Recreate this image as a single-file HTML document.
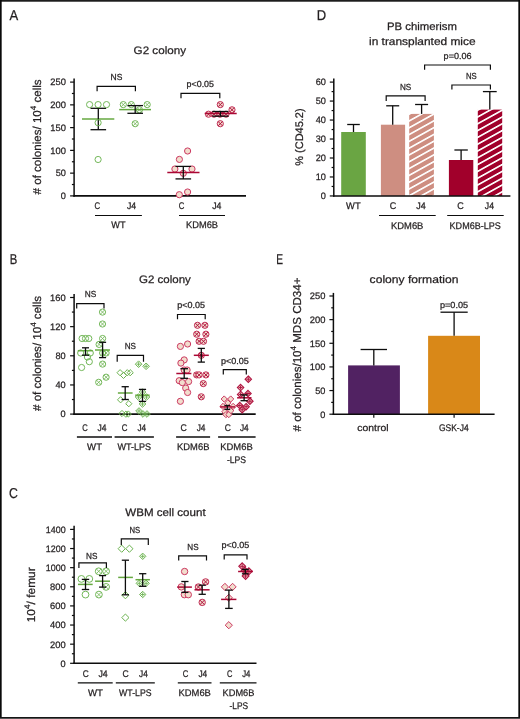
<!DOCTYPE html>
<html><head><meta charset="utf-8"><style>
html,body{margin:0;padding:0;background:#fff;width:520px;height:719px;overflow:hidden;}
svg{display:block;will-change:transform;}
</style></head><body>
<svg width="520" height="719" viewBox="0 0 520 719" style="position:absolute;left:0;top:0" font-family="'Liberation Sans', sans-serif">
<style>text{stroke:#231f20;stroke-width:0.25px;text-rendering:geometricPrecision;}</style>
<rect x="0" y="0" width="520" height="719" fill="#fff"/>
<text x="9.6" y="20.4" font-size="14.3" text-anchor="start" fill="#231f20" textLength="8.7" lengthAdjust="spacingAndGlyphs" >A</text>
<text x="9.8" y="263.8" font-size="14.3" text-anchor="start" fill="#231f20" textLength="7.5" lengthAdjust="spacingAndGlyphs" >B</text>
<text x="9.0" y="498.3" font-size="14.3" text-anchor="start" fill="#231f20" textLength="8.9" lengthAdjust="spacingAndGlyphs" >C</text>
<text x="316.8" y="20.2" font-size="14.3" text-anchor="start" fill="#231f20" textLength="9.4" lengthAdjust="spacingAndGlyphs" >D</text>
<text x="276.3" y="264.0" font-size="14.3" text-anchor="start" fill="#231f20" textLength="6.8" lengthAdjust="spacingAndGlyphs" >E</text>
<text x="133.6" y="53.8" font-size="10.8" text-anchor="start" fill="#231f20" textLength="52.4" lengthAdjust="spacingAndGlyphs" >G2 colony</text>
<text transform="translate(40.9,194.4) rotate(-90)" font-size="11.5" fill="#231f20" textLength="115" lengthAdjust="spacingAndGlyphs"># of colonies/ 10<tspan dy="-4.6" font-size="8">4</tspan><tspan dy="4.6"> cells</tspan></text>
<line x1="74.10" y1="78.50" x2="74.10" y2="196.70" stroke="#0d0d0d" stroke-width="1.5" stroke-linecap="butt"/>
<line x1="70.10" y1="195.90" x2="74.10" y2="195.90" stroke="#0d0d0d" stroke-width="1.2" stroke-linecap="butt"/>
<text x="65.9" y="199.2" font-size="9.3" text-anchor="end" fill="#231f20" textLength="5.1" lengthAdjust="spacingAndGlyphs" >0</text>
<line x1="70.10" y1="173.14" x2="74.10" y2="173.14" stroke="#0d0d0d" stroke-width="1.2" stroke-linecap="butt"/>
<text x="65.9" y="176.4" font-size="9.3" text-anchor="end" fill="#231f20" textLength="10.2" lengthAdjust="spacingAndGlyphs" >50</text>
<line x1="70.10" y1="150.38" x2="74.10" y2="150.38" stroke="#0d0d0d" stroke-width="1.2" stroke-linecap="butt"/>
<text x="65.9" y="153.7" font-size="9.3" text-anchor="end" fill="#231f20" textLength="15.6" lengthAdjust="spacingAndGlyphs" >100</text>
<line x1="70.10" y1="127.62" x2="74.10" y2="127.62" stroke="#0d0d0d" stroke-width="1.2" stroke-linecap="butt"/>
<text x="65.9" y="130.9" font-size="9.3" text-anchor="end" fill="#231f20" textLength="15.6" lengthAdjust="spacingAndGlyphs" >150</text>
<line x1="70.10" y1="104.86" x2="74.10" y2="104.86" stroke="#0d0d0d" stroke-width="1.2" stroke-linecap="butt"/>
<text x="65.9" y="108.2" font-size="9.3" text-anchor="end" fill="#231f20" textLength="15.6" lengthAdjust="spacingAndGlyphs" >200</text>
<line x1="70.10" y1="82.10" x2="74.10" y2="82.10" stroke="#0d0d0d" stroke-width="1.2" stroke-linecap="butt"/>
<text x="65.9" y="85.4" font-size="9.3" text-anchor="end" fill="#231f20" textLength="15.6" lengthAdjust="spacingAndGlyphs" >250</text>
<line x1="71.90" y1="184.52" x2="74.10" y2="184.52" stroke="#0d0d0d" stroke-width="1.2" stroke-linecap="butt"/>
<line x1="71.90" y1="161.76" x2="74.10" y2="161.76" stroke="#0d0d0d" stroke-width="1.2" stroke-linecap="butt"/>
<line x1="71.90" y1="139.00" x2="74.10" y2="139.00" stroke="#0d0d0d" stroke-width="1.2" stroke-linecap="butt"/>
<line x1="71.90" y1="116.24" x2="74.10" y2="116.24" stroke="#0d0d0d" stroke-width="1.2" stroke-linecap="butt"/>
<line x1="71.90" y1="93.48" x2="74.10" y2="93.48" stroke="#0d0d0d" stroke-width="1.2" stroke-linecap="butt"/>
<line x1="73.40" y1="195.90" x2="246.00" y2="195.90" stroke="#0d0d0d" stroke-width="1.6" stroke-linecap="butt"/>
<line x1="82.00" y1="119.00" x2="114.30" y2="119.00" stroke="#66a840" stroke-width="1.5" stroke-linecap="butt"/>
<line x1="98.30" y1="108.30" x2="98.30" y2="129.70" stroke="#0d0d0d" stroke-width="1.3" stroke-linecap="butt"/>
<line x1="90.50" y1="108.30" x2="106.10" y2="108.30" stroke="#0d0d0d" stroke-width="1.3" stroke-linecap="butt"/>
<line x1="90.50" y1="129.70" x2="106.10" y2="129.70" stroke="#0d0d0d" stroke-width="1.3" stroke-linecap="butt"/>
<circle cx="89.6" cy="104.6" r="3.1" fill="none" stroke="#6cb350" stroke-width="0.95"/>
<circle cx="98.1" cy="104.6" r="3.1" fill="none" stroke="#6cb350" stroke-width="0.95"/>
<circle cx="106.5" cy="104.6" r="3.1" fill="none" stroke="#6cb350" stroke-width="0.95"/>
<circle cx="98.1" cy="122.7" r="3.1" fill="none" stroke="#6cb350" stroke-width="0.95"/>
<circle cx="98.1" cy="159.5" r="3.1" fill="none" stroke="#6cb350" stroke-width="0.95"/>
<circle cx="123.3" cy="104.6" r="3.1" fill="none" stroke="#6cb350" stroke-width="0.95"/>
<path d="M121.13 102.43L125.47 106.77M121.13 106.77L125.47 102.43" stroke="#6cb350" stroke-width="0.8"/>
<circle cx="131.3" cy="104.6" r="3.1" fill="none" stroke="#6cb350" stroke-width="0.95"/>
<path d="M129.13 102.43L133.47 106.77M129.13 106.77L133.47 102.43" stroke="#6cb350" stroke-width="0.8"/>
<circle cx="147.2" cy="104.6" r="3.1" fill="none" stroke="#6cb350" stroke-width="0.95"/>
<path d="M145.03 102.43L149.37 106.77M145.03 106.77L149.37 102.43" stroke="#6cb350" stroke-width="0.8"/>
<circle cx="139.4" cy="109.8" r="3.1" fill="none" stroke="#6cb350" stroke-width="0.95"/>
<path d="M137.23 107.63L141.57 111.97M137.23 111.97L141.57 107.63" stroke="#6cb350" stroke-width="0.8"/>
<circle cx="135.2" cy="123.7" r="3.1" fill="none" stroke="#6cb350" stroke-width="0.95"/>
<path d="M133.03 121.53L137.37 125.87M133.03 125.87L137.37 121.53" stroke="#6cb350" stroke-width="0.8"/>
<line x1="119.20" y1="109.60" x2="151.00" y2="109.60" stroke="#66a840" stroke-width="1.5" stroke-linecap="butt"/>
<line x1="135.20" y1="105.60" x2="135.20" y2="113.30" stroke="#0d0d0d" stroke-width="1.3" stroke-linecap="butt"/>
<line x1="127.40" y1="105.60" x2="143.00" y2="105.60" stroke="#0d0d0d" stroke-width="1.3" stroke-linecap="butt"/>
<line x1="127.40" y1="113.30" x2="143.00" y2="113.30" stroke="#0d0d0d" stroke-width="1.3" stroke-linecap="butt"/>
<path d="M97.10 91.20L97.10 86.30L135.40 86.30L135.40 91.20" fill="none" stroke="#0d0d0d" stroke-width="1.2"/>
<text x="110.6" y="79.6" font-size="8.8" text-anchor="start" fill="#231f20" textLength="11.8" lengthAdjust="spacingAndGlyphs" >NS</text>
<circle cx="187.6" cy="151.0" r="3.1" fill="#f2dccd" stroke="#cc3a62" stroke-width="1.0"/>
<circle cx="179.4" cy="159.4" r="3.1" fill="#f2dccd" stroke="#cc3a62" stroke-width="1.0"/>
<circle cx="174.9" cy="169.0" r="3.1" fill="#f2dccd" stroke="#cc3a62" stroke-width="1.0"/>
<circle cx="192.0" cy="169.0" r="3.1" fill="#f2dccd" stroke="#cc3a62" stroke-width="1.0"/>
<circle cx="183.3" cy="173.3" r="3.1" fill="#f2dccd" stroke="#cc3a62" stroke-width="1.0"/>
<circle cx="187.6" cy="192.0" r="3.1" fill="#f2dccd" stroke="#cc3a62" stroke-width="1.0"/>
<circle cx="179.3" cy="194.7" r="3.1" fill="#f2dccd" stroke="#cc3a62" stroke-width="1.0"/>
<line x1="167.30" y1="172.40" x2="199.50" y2="172.40" stroke="#aa0834" stroke-width="1.5" stroke-linecap="butt"/>
<line x1="183.30" y1="166.40" x2="183.30" y2="178.90" stroke="#0d0d0d" stroke-width="1.3" stroke-linecap="butt"/>
<line x1="175.50" y1="166.40" x2="191.10" y2="166.40" stroke="#0d0d0d" stroke-width="1.3" stroke-linecap="butt"/>
<line x1="175.50" y1="178.90" x2="191.10" y2="178.90" stroke="#0d0d0d" stroke-width="1.3" stroke-linecap="butt"/>
<circle cx="220.3" cy="104.6" r="3.1" fill="#f2dccd" stroke="#c22e57" stroke-width="1.0"/>
<path d="M218.13 102.43L222.47 106.77M218.13 106.77L222.47 102.43" stroke="#b01240" stroke-width="1.0"/>
<circle cx="232.0" cy="109.8" r="3.1" fill="#f2dccd" stroke="#c22e57" stroke-width="1.0"/>
<path d="M229.83 107.63L234.17 111.97M229.83 111.97L234.17 107.63" stroke="#b01240" stroke-width="1.0"/>
<circle cx="208.5" cy="114.2" r="3.1" fill="#f2dccd" stroke="#c22e57" stroke-width="1.0"/>
<path d="M206.33 112.03L210.67 116.37M206.33 116.37L210.67 112.03" stroke="#b01240" stroke-width="1.0"/>
<circle cx="214.0" cy="114.2" r="3.1" fill="#f2dccd" stroke="#c22e57" stroke-width="1.0"/>
<path d="M211.83 112.03L216.17 116.37M211.83 116.37L216.17 112.03" stroke="#b01240" stroke-width="1.0"/>
<circle cx="220.0" cy="114.2" r="3.1" fill="#f2dccd" stroke="#c22e57" stroke-width="1.0"/>
<path d="M217.83 112.03L222.17 116.37M217.83 116.37L222.17 112.03" stroke="#b01240" stroke-width="1.0"/>
<circle cx="226.0" cy="114.2" r="3.1" fill="#f2dccd" stroke="#c22e57" stroke-width="1.0"/>
<path d="M223.83 112.03L228.17 116.37M223.83 116.37L228.17 112.03" stroke="#b01240" stroke-width="1.0"/>
<circle cx="220.3" cy="123.7" r="3.1" fill="#f2dccd" stroke="#c22e57" stroke-width="1.0"/>
<path d="M218.13 121.53L222.47 125.87M218.13 125.87L222.47 121.53" stroke="#b01240" stroke-width="1.0"/>
<line x1="204.70" y1="113.60" x2="236.70" y2="113.60" stroke="#aa0834" stroke-width="1.5" stroke-linecap="butt"/>
<line x1="220.40" y1="111.50" x2="220.40" y2="116.20" stroke="#0d0d0d" stroke-width="1.3" stroke-linecap="butt"/>
<line x1="212.30" y1="111.50" x2="228.50" y2="111.50" stroke="#0d0d0d" stroke-width="1.3" stroke-linecap="butt"/>
<line x1="212.30" y1="116.20" x2="228.50" y2="116.20" stroke="#0d0d0d" stroke-width="1.3" stroke-linecap="butt"/>
<path d="M181.00 98.30L181.00 93.30L219.80 93.30L219.80 98.30" fill="none" stroke="#0d0d0d" stroke-width="1.2"/>
<text x="186.6" y="86.9" font-size="8.8" text-anchor="start" fill="#231f20" textLength="27.4" lengthAdjust="spacingAndGlyphs" >p&lt;0.05</text>
<text x="94.5" y="209.1" font-size="9.6" text-anchor="start" fill="#231f20" textLength="5.6" lengthAdjust="spacingAndGlyphs" >C</text>
<text x="126.9" y="209.1" font-size="9.6" text-anchor="start" fill="#231f20" textLength="9.2" lengthAdjust="spacingAndGlyphs" >J4</text>
<text x="178.7" y="209.1" font-size="9.6" text-anchor="start" fill="#231f20" textLength="5.6" lengthAdjust="spacingAndGlyphs" >C</text>
<text x="212.2" y="209.1" font-size="9.6" text-anchor="start" fill="#231f20" textLength="9.2" lengthAdjust="spacingAndGlyphs" >J4</text>
<line x1="95.00" y1="215.50" x2="141.90" y2="215.50" stroke="#0d0d0d" stroke-width="1.2" stroke-linecap="butt"/>
<line x1="179.00" y1="215.50" x2="225.00" y2="215.50" stroke="#0d0d0d" stroke-width="1.2" stroke-linecap="butt"/>
<text x="111.3" y="228.3" font-size="9.6" text-anchor="start" fill="#231f20" textLength="14.2" lengthAdjust="spacingAndGlyphs" >WT</text>
<text x="186.0" y="228.3" font-size="9.6" text-anchor="start" fill="#231f20" textLength="32.0" lengthAdjust="spacingAndGlyphs" >KDM6B</text>
<text x="139.0" y="282.5" font-size="10.8" text-anchor="start" fill="#231f20" textLength="51.8" lengthAdjust="spacingAndGlyphs" >G2 colony</text>
<text transform="translate(41.0,411.0) rotate(-90)" font-size="11.5" fill="#231f20" textLength="115" lengthAdjust="spacingAndGlyphs"># of colonies/ 10<tspan dy="-4.6" font-size="8">4</tspan><tspan dy="4.6"> cells</tspan></text>
<line x1="74.10" y1="294.00" x2="74.10" y2="414.90" stroke="#0d0d0d" stroke-width="1.5" stroke-linecap="butt"/>
<line x1="70.10" y1="414.10" x2="74.10" y2="414.10" stroke="#0d0d0d" stroke-width="1.2" stroke-linecap="butt"/>
<text x="65.6" y="417.4" font-size="9.3" text-anchor="end" fill="#231f20" textLength="5.1" lengthAdjust="spacingAndGlyphs" >0</text>
<line x1="70.10" y1="384.95" x2="74.10" y2="384.95" stroke="#0d0d0d" stroke-width="1.2" stroke-linecap="butt"/>
<text x="65.6" y="388.3" font-size="9.3" text-anchor="end" fill="#231f20" textLength="10.2" lengthAdjust="spacingAndGlyphs" >40</text>
<line x1="70.10" y1="355.80" x2="74.10" y2="355.80" stroke="#0d0d0d" stroke-width="1.2" stroke-linecap="butt"/>
<text x="65.6" y="359.1" font-size="9.3" text-anchor="end" fill="#231f20" textLength="10.2" lengthAdjust="spacingAndGlyphs" >80</text>
<line x1="70.10" y1="326.65" x2="74.10" y2="326.65" stroke="#0d0d0d" stroke-width="1.2" stroke-linecap="butt"/>
<text x="65.6" y="329.9" font-size="9.3" text-anchor="end" fill="#231f20" textLength="15.6" lengthAdjust="spacingAndGlyphs" >120</text>
<line x1="70.10" y1="297.50" x2="74.10" y2="297.50" stroke="#0d0d0d" stroke-width="1.2" stroke-linecap="butt"/>
<text x="65.6" y="300.8" font-size="9.3" text-anchor="end" fill="#231f20" textLength="15.6" lengthAdjust="spacingAndGlyphs" >160</text>
<line x1="71.90" y1="399.53" x2="74.10" y2="399.53" stroke="#0d0d0d" stroke-width="1.2" stroke-linecap="butt"/>
<line x1="71.90" y1="370.38" x2="74.10" y2="370.38" stroke="#0d0d0d" stroke-width="1.2" stroke-linecap="butt"/>
<line x1="71.90" y1="341.23" x2="74.10" y2="341.23" stroke="#0d0d0d" stroke-width="1.2" stroke-linecap="butt"/>
<line x1="71.90" y1="312.07" x2="74.10" y2="312.07" stroke="#0d0d0d" stroke-width="1.2" stroke-linecap="butt"/>
<line x1="73.40" y1="414.10" x2="255.70" y2="414.10" stroke="#0d0d0d" stroke-width="1.6" stroke-linecap="butt"/>
<circle cx="82.1" cy="338.5" r="3.1" fill="none" stroke="#6cb350" stroke-width="0.95"/>
<circle cx="85.5" cy="338.5" r="3.1" fill="none" stroke="#6cb350" stroke-width="0.95"/>
<circle cx="88.8" cy="338.5" r="3.1" fill="none" stroke="#6cb350" stroke-width="0.95"/>
<circle cx="80.7" cy="353.0" r="3.1" fill="none" stroke="#6cb350" stroke-width="0.95"/>
<circle cx="90.3" cy="353.0" r="3.1" fill="none" stroke="#6cb350" stroke-width="0.95"/>
<circle cx="87.4" cy="357.0" r="3.1" fill="none" stroke="#6cb350" stroke-width="0.95"/>
<circle cx="89.3" cy="361.7" r="3.1" fill="none" stroke="#6cb350" stroke-width="0.95"/>
<circle cx="81.6" cy="367.5" r="3.1" fill="none" stroke="#6cb350" stroke-width="0.95"/>
<line x1="77.80" y1="350.70" x2="92.70" y2="350.70" stroke="#66a840" stroke-width="1.5" stroke-linecap="butt"/>
<line x1="85.50" y1="347.80" x2="85.50" y2="355.20" stroke="#0d0d0d" stroke-width="1.3" stroke-linecap="butt"/>
<line x1="82.00" y1="347.80" x2="89.00" y2="347.80" stroke="#0d0d0d" stroke-width="1.3" stroke-linecap="butt"/>
<line x1="82.00" y1="355.20" x2="89.00" y2="355.20" stroke="#0d0d0d" stroke-width="1.3" stroke-linecap="butt"/>
<circle cx="102.5" cy="312.1" r="3.1" fill="none" stroke="#6cb350" stroke-width="0.95"/>
<path d="M100.33 309.93L104.67 314.27M100.33 314.27L104.67 309.93" stroke="#6cb350" stroke-width="0.8"/>
<circle cx="102.5" cy="324.0" r="3.1" fill="none" stroke="#6cb350" stroke-width="0.95"/>
<path d="M100.33 321.83L104.67 326.17M100.33 326.17L104.67 321.83" stroke="#6cb350" stroke-width="0.8"/>
<circle cx="102.6" cy="338.5" r="3.1" fill="none" stroke="#6cb350" stroke-width="0.95"/>
<path d="M100.43 336.33L104.77 340.67M100.43 340.67L104.77 336.33" stroke="#6cb350" stroke-width="0.8"/>
<circle cx="99.1" cy="344.4" r="3.1" fill="none" stroke="#6cb350" stroke-width="0.95"/>
<path d="M96.93 342.23L101.27 346.57M96.93 346.57L101.27 342.23" stroke="#6cb350" stroke-width="0.8"/>
<circle cx="102.6" cy="353.0" r="3.1" fill="none" stroke="#6cb350" stroke-width="0.95"/>
<path d="M100.43 350.83L104.77 355.17M100.43 355.17L104.77 350.83" stroke="#6cb350" stroke-width="0.8"/>
<circle cx="106.1" cy="353.0" r="3.1" fill="none" stroke="#6cb350" stroke-width="0.95"/>
<path d="M103.93 350.83L108.27 355.17M103.93 355.17L108.27 350.83" stroke="#6cb350" stroke-width="0.8"/>
<circle cx="102.6" cy="364.1" r="3.1" fill="none" stroke="#6cb350" stroke-width="0.95"/>
<path d="M100.43 361.93L104.77 366.27M100.43 366.27L104.77 361.93" stroke="#6cb350" stroke-width="0.8"/>
<circle cx="106.1" cy="377.2" r="3.1" fill="none" stroke="#6cb350" stroke-width="0.95"/>
<path d="M103.93 375.03L108.27 379.37M103.93 379.37L108.27 375.03" stroke="#6cb350" stroke-width="0.8"/>
<circle cx="98.7" cy="382.3" r="3.1" fill="none" stroke="#6cb350" stroke-width="0.95"/>
<path d="M96.53 380.13L100.87 384.47M96.53 384.47L100.87 380.13" stroke="#6cb350" stroke-width="0.8"/>
<line x1="95.00" y1="350.00" x2="110.00" y2="350.00" stroke="#66a840" stroke-width="1.5" stroke-linecap="butt"/>
<line x1="102.60" y1="342.30" x2="102.60" y2="357.60" stroke="#0d0d0d" stroke-width="1.3" stroke-linecap="butt"/>
<line x1="99.10" y1="342.30" x2="106.10" y2="342.30" stroke="#0d0d0d" stroke-width="1.3" stroke-linecap="butt"/>
<line x1="99.10" y1="357.60" x2="106.10" y2="357.60" stroke="#0d0d0d" stroke-width="1.3" stroke-linecap="butt"/>
<path d="M76.70 308.60L76.70 303.70L104.00 303.70L104.00 308.60" fill="none" stroke="#0d0d0d" stroke-width="1.2"/>
<text x="84.8" y="297.1" font-size="8.8" text-anchor="start" fill="#231f20" textLength="11.5" lengthAdjust="spacingAndGlyphs" >NS</text>
<path d="M120.10 369.60L123.20 372.70L120.10 375.80L117.00 372.70Z" fill="none" stroke="#6cb350" stroke-width="1.0"/>
<path d="M123.50 372.30L126.60 375.40L123.50 378.50L120.40 375.40Z" fill="none" stroke="#6cb350" stroke-width="1.0"/>
<path d="M127.30 369.60L130.40 372.70L127.30 375.80L124.20 372.70Z" fill="none" stroke="#6cb350" stroke-width="1.0"/>
<path d="M130.20 369.60L133.30 372.70L130.20 375.80L127.10 372.70Z" fill="none" stroke="#6cb350" stroke-width="1.0"/>
<path d="M120.60 396.70L123.70 399.80L120.60 402.90L117.50 399.80Z" fill="none" stroke="#6cb350" stroke-width="1.0"/>
<path d="M128.80 400.60L131.90 403.70L128.80 406.80L125.70 403.70Z" fill="none" stroke="#6cb350" stroke-width="1.0"/>
<path d="M122.00 410.40L125.10 413.50L122.00 416.60L118.90 413.50Z" fill="none" stroke="#6cb350" stroke-width="1.0"/>
<path d="M125.90 411.10L129.00 414.20L125.90 417.30L122.80 414.20Z" fill="none" stroke="#6cb350" stroke-width="1.0"/>
<path d="M128.30 410.90L131.40 414.00L128.30 417.10L125.20 414.00Z" fill="none" stroke="#6cb350" stroke-width="1.0"/>
<line x1="117.90" y1="393.00" x2="132.60" y2="393.00" stroke="#66a840" stroke-width="1.5" stroke-linecap="butt"/>
<line x1="125.20" y1="386.70" x2="125.20" y2="399.50" stroke="#0d0d0d" stroke-width="1.3" stroke-linecap="butt"/>
<line x1="121.60" y1="386.70" x2="128.80" y2="386.70" stroke="#0d0d0d" stroke-width="1.3" stroke-linecap="butt"/>
<line x1="121.60" y1="399.50" x2="128.80" y2="399.50" stroke="#0d0d0d" stroke-width="1.3" stroke-linecap="butt"/>
<path d="M138.60 360.90L141.90 364.20L138.60 367.50L135.30 364.20Z" fill="none" stroke="#6cb350" stroke-width="1.0"/>
<path d="M136.55 364.20L140.65 364.20M138.60 362.15L138.60 366.25" stroke="#6cb350" stroke-width="0.9"/>
<path d="M146.10 363.00L149.40 366.30L146.10 369.60L142.80 366.30Z" fill="none" stroke="#6cb350" stroke-width="1.0"/>
<path d="M144.05 366.30L148.15 366.30M146.10 364.25L146.10 368.35" stroke="#6cb350" stroke-width="0.9"/>
<path d="M142.50 388.70L145.80 392.00L142.50 395.30L139.20 392.00Z" fill="none" stroke="#6cb350" stroke-width="1.0"/>
<path d="M140.45 392.00L144.55 392.00M142.50 389.95L142.50 394.05" stroke="#6cb350" stroke-width="0.9"/>
<path d="M138.50 393.70L141.80 397.00L138.50 400.30L135.20 397.00Z" fill="none" stroke="#6cb350" stroke-width="1.0"/>
<path d="M136.45 397.00L140.55 397.00M138.50 394.95L138.50 399.05" stroke="#6cb350" stroke-width="0.9"/>
<path d="M146.50 393.70L149.80 397.00L146.50 400.30L143.20 397.00Z" fill="none" stroke="#6cb350" stroke-width="1.0"/>
<path d="M144.45 397.00L148.55 397.00M146.50 394.95L146.50 399.05" stroke="#6cb350" stroke-width="0.9"/>
<path d="M142.50 400.70L145.80 404.00L142.50 407.30L139.20 404.00Z" fill="none" stroke="#6cb350" stroke-width="1.0"/>
<path d="M140.45 404.00L144.55 404.00M142.50 401.95L142.50 406.05" stroke="#6cb350" stroke-width="0.9"/>
<path d="M139.00 407.70L142.30 411.00L139.00 414.30L135.70 411.00Z" fill="none" stroke="#6cb350" stroke-width="1.0"/>
<path d="M136.95 411.00L141.05 411.00M139.00 408.95L139.00 413.05" stroke="#6cb350" stroke-width="0.9"/>
<path d="M143.00 410.70L146.30 414.00L143.00 417.30L139.70 414.00Z" fill="none" stroke="#6cb350" stroke-width="1.0"/>
<path d="M140.95 414.00L145.05 414.00M143.00 411.95L143.00 416.05" stroke="#6cb350" stroke-width="0.9"/>
<path d="M147.00 410.70L150.30 414.00L147.00 417.30L143.70 414.00Z" fill="none" stroke="#6cb350" stroke-width="1.0"/>
<path d="M144.95 414.00L149.05 414.00M147.00 411.95L147.00 416.05" stroke="#6cb350" stroke-width="0.9"/>
<line x1="135.20" y1="395.20" x2="149.60" y2="395.20" stroke="#66a840" stroke-width="1.5" stroke-linecap="butt"/>
<line x1="142.50" y1="389.40" x2="142.50" y2="401.40" stroke="#0d0d0d" stroke-width="1.3" stroke-linecap="butt"/>
<line x1="138.90" y1="389.40" x2="146.10" y2="389.40" stroke="#0d0d0d" stroke-width="1.3" stroke-linecap="butt"/>
<line x1="138.90" y1="401.40" x2="146.10" y2="401.40" stroke="#0d0d0d" stroke-width="1.3" stroke-linecap="butt"/>
<path d="M117.20 361.80L117.20 355.40L143.50 355.40L143.50 361.80" fill="none" stroke="#0d0d0d" stroke-width="1.2"/>
<text x="124.7" y="349.1" font-size="8.8" text-anchor="start" fill="#231f20" textLength="11.3" lengthAdjust="spacingAndGlyphs" >NS</text>
<circle cx="187.6" cy="344.0" r="3.1" fill="#f2dccd" stroke="#cc3a62" stroke-width="1.0"/>
<circle cx="180.4" cy="346.4" r="3.1" fill="#f2dccd" stroke="#cc3a62" stroke-width="1.0"/>
<circle cx="184.2" cy="359.9" r="3.1" fill="#f2dccd" stroke="#cc3a62" stroke-width="1.0"/>
<circle cx="180.9" cy="363.1" r="3.1" fill="#f2dccd" stroke="#cc3a62" stroke-width="1.0"/>
<circle cx="184.2" cy="370.0" r="3.1" fill="#f2dccd" stroke="#cc3a62" stroke-width="1.0"/>
<circle cx="187.1" cy="370.0" r="3.1" fill="#f2dccd" stroke="#cc3a62" stroke-width="1.0"/>
<circle cx="179.2" cy="380.7" r="3.1" fill="#f2dccd" stroke="#cc3a62" stroke-width="1.0"/>
<circle cx="182.3" cy="382.6" r="3.1" fill="#f2dccd" stroke="#cc3a62" stroke-width="1.0"/>
<circle cx="188.6" cy="381.6" r="3.1" fill="#f2dccd" stroke="#cc3a62" stroke-width="1.0"/>
<circle cx="185.7" cy="388.1" r="3.1" fill="#f2dccd" stroke="#cc3a62" stroke-width="1.0"/>
<circle cx="187.6" cy="392.5" r="3.1" fill="#f2dccd" stroke="#cc3a62" stroke-width="1.0"/>
<circle cx="180.4" cy="401.3" r="3.1" fill="#f2dccd" stroke="#cc3a62" stroke-width="1.0"/>
<line x1="176.30" y1="373.50" x2="191.40" y2="373.50" stroke="#aa0834" stroke-width="1.5" stroke-linecap="butt"/>
<line x1="184.20" y1="368.70" x2="184.20" y2="378.30" stroke="#0d0d0d" stroke-width="1.3" stroke-linecap="butt"/>
<line x1="180.40" y1="368.70" x2="188.00" y2="368.70" stroke="#0d0d0d" stroke-width="1.3" stroke-linecap="butt"/>
<line x1="180.40" y1="378.30" x2="188.00" y2="378.30" stroke="#0d0d0d" stroke-width="1.3" stroke-linecap="butt"/>
<circle cx="197.5" cy="325.3" r="3.1" fill="#f2dccd" stroke="#c22e57" stroke-width="1.0"/>
<path d="M195.33 323.13L199.67 327.47M195.33 327.47L199.67 323.13" stroke="#b01240" stroke-width="1.0"/>
<circle cx="204.9" cy="325.3" r="3.1" fill="#f2dccd" stroke="#c22e57" stroke-width="1.0"/>
<path d="M202.73 323.13L207.07 327.47M202.73 327.47L207.07 323.13" stroke="#b01240" stroke-width="1.0"/>
<circle cx="196.7" cy="334.2" r="3.1" fill="#f2dccd" stroke="#c22e57" stroke-width="1.0"/>
<path d="M194.53 332.03L198.87 336.37M194.53 336.37L198.87 332.03" stroke="#b01240" stroke-width="1.0"/>
<circle cx="205.9" cy="334.2" r="3.1" fill="#f2dccd" stroke="#c22e57" stroke-width="1.0"/>
<path d="M203.73 332.03L208.07 336.37M203.73 336.37L208.07 332.03" stroke="#b01240" stroke-width="1.0"/>
<circle cx="199.1" cy="341.3" r="3.1" fill="#f2dccd" stroke="#c22e57" stroke-width="1.0"/>
<path d="M196.93 339.13L201.27 343.47M196.93 343.47L201.27 339.13" stroke="#b01240" stroke-width="1.0"/>
<circle cx="203.5" cy="341.3" r="3.1" fill="#f2dccd" stroke="#c22e57" stroke-width="1.0"/>
<path d="M201.33 339.13L205.67 343.47M201.33 343.47L205.67 339.13" stroke="#b01240" stroke-width="1.0"/>
<circle cx="201.3" cy="355.3" r="3.1" fill="#f2dccd" stroke="#c22e57" stroke-width="1.0"/>
<path d="M199.13 353.13L203.47 357.47M199.13 357.47L203.47 353.13" stroke="#b01240" stroke-width="1.0"/>
<circle cx="196.7" cy="374.9" r="3.1" fill="#f2dccd" stroke="#c22e57" stroke-width="1.0"/>
<path d="M194.53 372.73L198.87 377.07M194.53 377.07L198.87 372.73" stroke="#b01240" stroke-width="1.0"/>
<circle cx="199.1" cy="374.9" r="3.1" fill="#f2dccd" stroke="#c22e57" stroke-width="1.0"/>
<path d="M196.93 372.73L201.27 377.07M196.93 377.07L201.27 372.73" stroke="#b01240" stroke-width="1.0"/>
<circle cx="205.9" cy="374.9" r="3.1" fill="#f2dccd" stroke="#c22e57" stroke-width="1.0"/>
<path d="M203.73 372.73L208.07 377.07M203.73 377.07L208.07 372.73" stroke="#b01240" stroke-width="1.0"/>
<circle cx="203.3" cy="383.6" r="3.1" fill="#f2dccd" stroke="#c22e57" stroke-width="1.0"/>
<path d="M201.13 381.43L205.47 385.77M201.13 385.77L205.47 381.43" stroke="#b01240" stroke-width="1.0"/>
<circle cx="201.3" cy="396.8" r="3.1" fill="#f2dccd" stroke="#c22e57" stroke-width="1.0"/>
<path d="M199.13 394.63L203.47 398.97M199.13 398.97L203.47 394.63" stroke="#b01240" stroke-width="1.0"/>
<line x1="193.80" y1="355.30" x2="208.80" y2="355.30" stroke="#aa0834" stroke-width="1.5" stroke-linecap="butt"/>
<line x1="201.30" y1="348.40" x2="201.30" y2="362.10" stroke="#0d0d0d" stroke-width="1.3" stroke-linecap="butt"/>
<line x1="197.70" y1="348.40" x2="204.90" y2="348.40" stroke="#0d0d0d" stroke-width="1.3" stroke-linecap="butt"/>
<line x1="197.70" y1="362.10" x2="204.90" y2="362.10" stroke="#0d0d0d" stroke-width="1.3" stroke-linecap="butt"/>
<path d="M177.50 319.20L177.50 314.50L205.20 314.50L205.20 319.20" fill="none" stroke="#0d0d0d" stroke-width="1.2"/>
<text x="177.2" y="307.9" font-size="8.8" text-anchor="start" fill="#231f20" textLength="27.8" lengthAdjust="spacingAndGlyphs" >p&lt;0.05</text>
<path d="M224.20 395.90L227.30 399.00L224.20 402.10L221.10 399.00Z" fill="#f2dccd" stroke="#cc3a62" stroke-width="1.0"/>
<path d="M230.70 395.90L233.80 399.00L230.70 402.10L227.60 399.00Z" fill="#f2dccd" stroke="#cc3a62" stroke-width="1.0"/>
<path d="M227.80 399.80L230.90 402.90L227.80 406.00L224.70 402.90Z" fill="#f2dccd" stroke="#cc3a62" stroke-width="1.0"/>
<path d="M223.00 403.30L226.10 406.40L223.00 409.50L219.90 406.40Z" fill="#f2dccd" stroke="#cc3a62" stroke-width="1.0"/>
<path d="M233.10 403.30L236.20 406.40L233.10 409.50L230.00 406.40Z" fill="#f2dccd" stroke="#cc3a62" stroke-width="1.0"/>
<path d="M224.90 408.60L228.00 411.70L224.90 414.80L221.80 411.70Z" fill="#f2dccd" stroke="#cc3a62" stroke-width="1.0"/>
<path d="M230.70 407.70L233.80 410.80L230.70 413.90L227.60 410.80Z" fill="#f2dccd" stroke="#cc3a62" stroke-width="1.0"/>
<path d="M225.90 411.50L229.00 414.60L225.90 417.70L222.80 414.60Z" fill="#f2dccd" stroke="#cc3a62" stroke-width="1.0"/>
<path d="M228.80 411.50L231.90 414.60L228.80 417.70L225.70 414.60Z" fill="#f2dccd" stroke="#cc3a62" stroke-width="1.0"/>
<line x1="220.10" y1="406.90" x2="235.20" y2="406.90" stroke="#aa0834" stroke-width="1.5" stroke-linecap="butt"/>
<line x1="227.30" y1="405.50" x2="227.30" y2="409.30" stroke="#0d0d0d" stroke-width="1.3" stroke-linecap="butt"/>
<line x1="224.40" y1="405.50" x2="230.20" y2="405.50" stroke="#0d0d0d" stroke-width="1.3" stroke-linecap="butt"/>
<line x1="224.40" y1="409.30" x2="230.20" y2="409.30" stroke="#0d0d0d" stroke-width="1.3" stroke-linecap="butt"/>
<path d="M248.30 376.00L251.50 379.20L248.30 382.40L245.10 379.20Z" fill="#f2dccd" stroke="#b01240" stroke-width="1.1"/>
<path d="M246.32 379.20L250.28 379.20M248.30 377.22L248.30 381.18" stroke="#b01240" stroke-width="1.0"/>
<path d="M240.60 384.40L243.80 387.60L240.60 390.80L237.40 387.60Z" fill="#f2dccd" stroke="#b01240" stroke-width="1.1"/>
<path d="M238.62 387.60L242.58 387.60M240.60 385.62L240.60 389.58" stroke="#b01240" stroke-width="1.0"/>
<path d="M240.60 391.20L243.80 394.40L240.60 397.60L237.40 394.40Z" fill="#f2dccd" stroke="#b01240" stroke-width="1.1"/>
<path d="M238.62 394.40L242.58 394.40M240.60 392.42L240.60 396.38" stroke="#b01240" stroke-width="1.0"/>
<path d="M248.00 390.30L251.20 393.50L248.00 396.70L244.80 393.50Z" fill="#f2dccd" stroke="#b01240" stroke-width="1.1"/>
<path d="M246.02 393.50L249.98 393.50M248.00 391.52L248.00 395.48" stroke="#b01240" stroke-width="1.0"/>
<path d="M249.90 398.00L253.10 401.20L249.90 404.40L246.70 401.20Z" fill="#f2dccd" stroke="#b01240" stroke-width="1.1"/>
<path d="M247.92 401.20L251.88 401.20M249.90 399.22L249.90 403.18" stroke="#b01240" stroke-width="1.0"/>
<path d="M239.80 402.30L243.00 405.50L239.80 408.70L236.60 405.50Z" fill="#f2dccd" stroke="#b01240" stroke-width="1.1"/>
<path d="M237.82 405.50L241.78 405.50M239.80 403.52L239.80 407.48" stroke="#b01240" stroke-width="1.0"/>
<path d="M246.10 403.50L249.30 406.70L246.10 409.90L242.90 406.70Z" fill="#f2dccd" stroke="#b01240" stroke-width="1.1"/>
<path d="M244.12 406.70L248.08 406.70M246.10 404.72L246.10 408.68" stroke="#b01240" stroke-width="1.0"/>
<path d="M242.20 406.60L245.40 409.80L242.20 413.00L239.00 409.80Z" fill="#f2dccd" stroke="#b01240" stroke-width="1.1"/>
<path d="M240.22 409.80L244.18 409.80M242.20 407.82L242.20 411.78" stroke="#b01240" stroke-width="1.0"/>
<line x1="237.10" y1="397.80" x2="251.50" y2="397.80" stroke="#aa0834" stroke-width="1.5" stroke-linecap="butt"/>
<line x1="244.10" y1="394.90" x2="244.10" y2="400.70" stroke="#0d0d0d" stroke-width="1.3" stroke-linecap="butt"/>
<line x1="240.50" y1="394.90" x2="247.70" y2="394.90" stroke="#0d0d0d" stroke-width="1.3" stroke-linecap="butt"/>
<line x1="240.50" y1="400.70" x2="247.70" y2="400.70" stroke="#0d0d0d" stroke-width="1.3" stroke-linecap="butt"/>
<path d="M223.30 374.60L223.30 369.60L246.30 369.60L246.30 374.60" fill="none" stroke="#0d0d0d" stroke-width="1.2"/>
<text x="220.9" y="363.6" font-size="8.8" text-anchor="start" fill="#231f20" textLength="28.0" lengthAdjust="spacingAndGlyphs" >p&lt;0.05</text>
<text x="82.3" y="430.6" font-size="9.6" text-anchor="start" fill="#231f20" textLength="5.5" lengthAdjust="spacingAndGlyphs" >C</text>
<text x="97.6" y="430.6" font-size="9.6" text-anchor="start" fill="#231f20" textLength="9.0" lengthAdjust="spacingAndGlyphs" >J4</text>
<text x="121.7" y="430.6" font-size="9.6" text-anchor="start" fill="#231f20" textLength="5.7" lengthAdjust="spacingAndGlyphs" >C</text>
<text x="137.4" y="430.6" font-size="9.6" text-anchor="start" fill="#231f20" textLength="8.7" lengthAdjust="spacingAndGlyphs" >J4</text>
<text x="180.5" y="430.6" font-size="9.6" text-anchor="start" fill="#231f20" textLength="6.3" lengthAdjust="spacingAndGlyphs" >C</text>
<text x="196.7" y="430.6" font-size="9.6" text-anchor="start" fill="#231f20" textLength="8.8" lengthAdjust="spacingAndGlyphs" >J4</text>
<text x="224.8" y="430.6" font-size="9.6" text-anchor="start" fill="#231f20" textLength="6.1" lengthAdjust="spacingAndGlyphs" >C</text>
<text x="239.9" y="430.6" font-size="9.6" text-anchor="start" fill="#231f20" textLength="8.8" lengthAdjust="spacingAndGlyphs" >J4</text>
<line x1="76.90" y1="437.00" x2="112.00" y2="437.00" stroke="#0d0d0d" stroke-width="1.3" stroke-linecap="butt"/>
<line x1="114.60" y1="437.00" x2="153.90" y2="437.00" stroke="#0d0d0d" stroke-width="1.3" stroke-linecap="butt"/>
<line x1="176.10" y1="437.00" x2="210.10" y2="437.00" stroke="#0d0d0d" stroke-width="1.3" stroke-linecap="butt"/>
<line x1="218.10" y1="437.00" x2="255.60" y2="437.00" stroke="#0d0d0d" stroke-width="1.3" stroke-linecap="butt"/>
<text x="87.1" y="449.6" font-size="9.6" text-anchor="start" fill="#231f20" textLength="14.9" lengthAdjust="spacingAndGlyphs" >WT</text>
<text x="117.4" y="449.6" font-size="9.6" text-anchor="start" fill="#231f20" textLength="33.6" lengthAdjust="spacingAndGlyphs" >WT-LPS</text>
<text x="177.1" y="450.0" font-size="9.6" text-anchor="start" fill="#231f20" textLength="32.3" lengthAdjust="spacingAndGlyphs" >KDM6B</text>
<text x="220.3" y="450.0" font-size="9.6" text-anchor="start" fill="#231f20" textLength="32.4" lengthAdjust="spacingAndGlyphs" >KDM6B</text>
<text x="226.9" y="462.6" font-size="9.6" text-anchor="start" fill="#231f20" textLength="19.2" lengthAdjust="spacingAndGlyphs" >-LPS</text>
<text x="125.3" y="516.4" font-size="10.8" text-anchor="start" fill="#231f20" textLength="80.3" lengthAdjust="spacingAndGlyphs" >WBM cell count</text>
<text transform="translate(34.8,622.3) rotate(-90)" font-size="11.5" fill="#231f20" textLength="55" lengthAdjust="spacingAndGlyphs">10<tspan dy="-4.6" font-size="8">4</tspan><tspan dy="4.6">/ femur</tspan></text>
<line x1="74.10" y1="525.70" x2="74.10" y2="664.10" stroke="#0d0d0d" stroke-width="1.5" stroke-linecap="butt"/>
<line x1="70.10" y1="663.30" x2="74.10" y2="663.30" stroke="#0d0d0d" stroke-width="1.2" stroke-linecap="butt"/>
<text x="65.6" y="666.6" font-size="9.3" text-anchor="end" fill="#231f20" textLength="5.1" lengthAdjust="spacingAndGlyphs" >0</text>
<line x1="70.10" y1="644.17" x2="74.10" y2="644.17" stroke="#0d0d0d" stroke-width="1.2" stroke-linecap="butt"/>
<text x="65.6" y="647.5" font-size="9.3" text-anchor="end" fill="#231f20" textLength="15.6" lengthAdjust="spacingAndGlyphs" >200</text>
<line x1="70.10" y1="625.04" x2="74.10" y2="625.04" stroke="#0d0d0d" stroke-width="1.2" stroke-linecap="butt"/>
<text x="65.6" y="628.3" font-size="9.3" text-anchor="end" fill="#231f20" textLength="15.6" lengthAdjust="spacingAndGlyphs" >400</text>
<line x1="70.10" y1="605.91" x2="74.10" y2="605.91" stroke="#0d0d0d" stroke-width="1.2" stroke-linecap="butt"/>
<text x="65.6" y="609.2" font-size="9.3" text-anchor="end" fill="#231f20" textLength="15.6" lengthAdjust="spacingAndGlyphs" >600</text>
<line x1="70.10" y1="586.79" x2="74.10" y2="586.79" stroke="#0d0d0d" stroke-width="1.2" stroke-linecap="butt"/>
<text x="65.6" y="590.1" font-size="9.3" text-anchor="end" fill="#231f20" textLength="15.6" lengthAdjust="spacingAndGlyphs" >800</text>
<line x1="70.10" y1="567.66" x2="74.10" y2="567.66" stroke="#0d0d0d" stroke-width="1.2" stroke-linecap="butt"/>
<text x="65.6" y="571.0" font-size="9.3" text-anchor="end" fill="#231f20" textLength="19.8" lengthAdjust="spacingAndGlyphs" >1000</text>
<line x1="70.10" y1="548.53" x2="74.10" y2="548.53" stroke="#0d0d0d" stroke-width="1.2" stroke-linecap="butt"/>
<text x="65.6" y="551.8" font-size="9.3" text-anchor="end" fill="#231f20" textLength="19.8" lengthAdjust="spacingAndGlyphs" >1200</text>
<line x1="70.10" y1="529.40" x2="74.10" y2="529.40" stroke="#0d0d0d" stroke-width="1.2" stroke-linecap="butt"/>
<text x="65.6" y="532.7" font-size="9.3" text-anchor="end" fill="#231f20" textLength="19.8" lengthAdjust="spacingAndGlyphs" >1400</text>
<line x1="71.90" y1="653.74" x2="74.10" y2="653.74" stroke="#0d0d0d" stroke-width="1.2" stroke-linecap="butt"/>
<line x1="71.90" y1="634.61" x2="74.10" y2="634.61" stroke="#0d0d0d" stroke-width="1.2" stroke-linecap="butt"/>
<line x1="71.90" y1="615.48" x2="74.10" y2="615.48" stroke="#0d0d0d" stroke-width="1.2" stroke-linecap="butt"/>
<line x1="71.90" y1="596.35" x2="74.10" y2="596.35" stroke="#0d0d0d" stroke-width="1.2" stroke-linecap="butt"/>
<line x1="71.90" y1="577.22" x2="74.10" y2="577.22" stroke="#0d0d0d" stroke-width="1.2" stroke-linecap="butt"/>
<line x1="71.90" y1="558.09" x2="74.10" y2="558.09" stroke="#0d0d0d" stroke-width="1.2" stroke-linecap="butt"/>
<line x1="71.90" y1="538.96" x2="74.10" y2="538.96" stroke="#0d0d0d" stroke-width="1.2" stroke-linecap="butt"/>
<line x1="73.40" y1="663.30" x2="256.50" y2="663.30" stroke="#0d0d0d" stroke-width="1.6" stroke-linecap="butt"/>
<circle cx="81.4" cy="578.9" r="3.4" fill="none" stroke="#6cb350" stroke-width="0.95"/>
<circle cx="89.3" cy="578.9" r="3.4" fill="none" stroke="#6cb350" stroke-width="0.95"/>
<circle cx="85.5" cy="594.6" r="3.4" fill="none" stroke="#6cb350" stroke-width="0.95"/>
<line x1="78.00" y1="584.40" x2="92.70" y2="584.40" stroke="#66a840" stroke-width="1.5" stroke-linecap="butt"/>
<line x1="85.50" y1="579.40" x2="85.50" y2="589.50" stroke="#0d0d0d" stroke-width="1.3" stroke-linecap="butt"/>
<line x1="81.80" y1="579.40" x2="89.20" y2="579.40" stroke="#0d0d0d" stroke-width="1.3" stroke-linecap="butt"/>
<line x1="81.80" y1="589.50" x2="89.20" y2="589.50" stroke="#0d0d0d" stroke-width="1.3" stroke-linecap="butt"/>
<circle cx="98.7" cy="571.3" r="3.4" fill="none" stroke="#6cb350" stroke-width="0.95"/>
<path d="M96.32 568.92L101.08 573.68M96.32 573.68L101.08 568.92" stroke="#6cb350" stroke-width="0.8"/>
<circle cx="106.1" cy="571.3" r="3.4" fill="none" stroke="#6cb350" stroke-width="0.95"/>
<path d="M103.72 568.92L108.48 573.68M103.72 573.68L108.48 568.92" stroke="#6cb350" stroke-width="0.8"/>
<circle cx="106.1" cy="586.9" r="3.4" fill="none" stroke="#6cb350" stroke-width="0.95"/>
<path d="M103.72 584.52L108.48 589.28M103.72 589.28L108.48 584.52" stroke="#6cb350" stroke-width="0.8"/>
<circle cx="98.9" cy="594.6" r="3.4" fill="none" stroke="#6cb350" stroke-width="0.95"/>
<path d="M96.52 592.22L101.28 596.98M96.52 596.98L101.28 592.22" stroke="#6cb350" stroke-width="0.8"/>
<line x1="95.10" y1="581.20" x2="110.00" y2="581.20" stroke="#66a840" stroke-width="1.5" stroke-linecap="butt"/>
<line x1="102.60" y1="575.60" x2="102.60" y2="587.10" stroke="#0d0d0d" stroke-width="1.3" stroke-linecap="butt"/>
<line x1="99.10" y1="575.60" x2="106.10" y2="575.60" stroke="#0d0d0d" stroke-width="1.3" stroke-linecap="butt"/>
<line x1="99.10" y1="587.10" x2="106.10" y2="587.10" stroke="#0d0d0d" stroke-width="1.3" stroke-linecap="butt"/>
<path d="M78.90 567.90L78.90 562.90L106.40 562.90L106.40 567.90" fill="none" stroke="#0d0d0d" stroke-width="1.2"/>
<text x="86.0" y="559.2" font-size="8.8" text-anchor="start" fill="#231f20" textLength="11.4" lengthAdjust="spacingAndGlyphs" >NS</text>
<path d="M121.70 545.10L125.30 548.70L121.70 552.30L118.10 548.70Z" fill="none" stroke="#6cb350" stroke-width="1.0"/>
<path d="M129.40 545.10L133.00 548.70L129.40 552.30L125.80 548.70Z" fill="none" stroke="#6cb350" stroke-width="1.0"/>
<path d="M125.40 591.60L129.00 595.20L125.40 598.80L121.80 595.20Z" fill="none" stroke="#6cb350" stroke-width="1.0"/>
<path d="M125.40 614.00L129.00 617.60L125.40 621.20L121.80 617.60Z" fill="none" stroke="#6cb350" stroke-width="1.0"/>
<line x1="118.20" y1="577.40" x2="132.90" y2="577.40" stroke="#66a840" stroke-width="1.5" stroke-linecap="butt"/>
<line x1="125.40" y1="560.20" x2="125.40" y2="594.80" stroke="#0d0d0d" stroke-width="1.3" stroke-linecap="butt"/>
<line x1="121.80" y1="560.20" x2="129.00" y2="560.20" stroke="#0d0d0d" stroke-width="1.3" stroke-linecap="butt"/>
<line x1="121.80" y1="594.80" x2="129.00" y2="594.80" stroke="#0d0d0d" stroke-width="1.3" stroke-linecap="butt"/>
<path d="M142.70 553.10L145.90 556.30L142.70 559.50L139.50 556.30Z" fill="none" stroke="#6cb350" stroke-width="1.0"/>
<path d="M140.72 556.30L144.68 556.30M142.70 554.32L142.70 558.28" stroke="#6cb350" stroke-width="0.9"/>
<path d="M139.30 580.10L142.50 583.30L139.30 586.50L136.10 583.30Z" fill="none" stroke="#6cb350" stroke-width="1.0"/>
<path d="M137.32 583.30L141.28 583.30M139.30 581.32L139.30 585.28" stroke="#6cb350" stroke-width="0.9"/>
<path d="M146.10 580.10L149.30 583.30L146.10 586.50L142.90 583.30Z" fill="none" stroke="#6cb350" stroke-width="1.0"/>
<path d="M144.12 583.30L148.08 583.30M146.10 581.32L146.10 585.28" stroke="#6cb350" stroke-width="0.9"/>
<path d="M142.70 591.30L145.90 594.50L142.70 597.70L139.50 594.50Z" fill="none" stroke="#6cb350" stroke-width="1.0"/>
<path d="M140.72 594.50L144.68 594.50M142.70 592.52L142.70 596.48" stroke="#6cb350" stroke-width="0.9"/>
<line x1="135.50" y1="579.70" x2="149.90" y2="579.70" stroke="#66a840" stroke-width="1.5" stroke-linecap="butt"/>
<line x1="142.70" y1="573.70" x2="142.70" y2="586.30" stroke="#0d0d0d" stroke-width="1.3" stroke-linecap="butt"/>
<line x1="139.10" y1="573.70" x2="146.30" y2="573.70" stroke="#0d0d0d" stroke-width="1.3" stroke-linecap="butt"/>
<line x1="139.10" y1="586.30" x2="146.30" y2="586.30" stroke="#0d0d0d" stroke-width="1.3" stroke-linecap="butt"/>
<path d="M121.30 545.00L121.30 538.80L148.30 538.80L148.30 545.00" fill="none" stroke="#0d0d0d" stroke-width="1.2"/>
<text x="129.5" y="532.5" font-size="8.8" text-anchor="start" fill="#231f20" textLength="10.7" lengthAdjust="spacingAndGlyphs" >NS</text>
<circle cx="184.6" cy="571.5" r="3.2" fill="#f2dccd" stroke="#cc3a62" stroke-width="1.0"/>
<circle cx="181.3" cy="586.9" r="3.2" fill="#f2dccd" stroke="#cc3a62" stroke-width="1.0"/>
<circle cx="184.4" cy="594.7" r="3.2" fill="#f2dccd" stroke="#cc3a62" stroke-width="1.0"/>
<circle cx="188.3" cy="594.7" r="3.2" fill="#f2dccd" stroke="#cc3a62" stroke-width="1.0"/>
<line x1="177.20" y1="587.10" x2="191.90" y2="587.10" stroke="#aa0834" stroke-width="1.5" stroke-linecap="butt"/>
<line x1="184.90" y1="581.50" x2="184.90" y2="592.40" stroke="#0d0d0d" stroke-width="1.3" stroke-linecap="butt"/>
<line x1="181.30" y1="581.50" x2="188.50" y2="581.50" stroke="#0d0d0d" stroke-width="1.3" stroke-linecap="butt"/>
<line x1="181.30" y1="592.40" x2="188.50" y2="592.40" stroke="#0d0d0d" stroke-width="1.3" stroke-linecap="butt"/>
<circle cx="205.6" cy="581.9" r="3.2" fill="#f2dccd" stroke="#c22e57" stroke-width="1.0"/>
<path d="M203.36 579.66L207.84 584.14M203.36 584.14L207.84 579.66" stroke="#b01240" stroke-width="1.0"/>
<circle cx="198.4" cy="587.0" r="3.2" fill="#f2dccd" stroke="#c22e57" stroke-width="1.0"/>
<path d="M196.16 584.76L200.64 589.24M196.16 589.24L200.64 584.76" stroke="#b01240" stroke-width="1.0"/>
<circle cx="202.2" cy="602.4" r="3.2" fill="#f2dccd" stroke="#c22e57" stroke-width="1.0"/>
<path d="M199.96 600.16L204.44 604.64M199.96 604.64L204.44 600.16" stroke="#b01240" stroke-width="1.0"/>
<line x1="194.50" y1="589.80" x2="209.60" y2="589.80" stroke="#aa0834" stroke-width="1.5" stroke-linecap="butt"/>
<line x1="202.20" y1="585.20" x2="202.20" y2="594.30" stroke="#0d0d0d" stroke-width="1.3" stroke-linecap="butt"/>
<line x1="198.60" y1="585.20" x2="205.80" y2="585.20" stroke="#0d0d0d" stroke-width="1.3" stroke-linecap="butt"/>
<line x1="198.60" y1="594.30" x2="205.80" y2="594.30" stroke="#0d0d0d" stroke-width="1.3" stroke-linecap="butt"/>
<path d="M178.70 560.60L178.70 555.90L206.50 555.90L206.50 560.60" fill="none" stroke="#0d0d0d" stroke-width="1.2"/>
<text x="187.3" y="549.6" font-size="8.8" text-anchor="start" fill="#231f20" textLength="11.3" lengthAdjust="spacingAndGlyphs" >NS</text>
<path d="M224.90 583.30L228.50 586.90L224.90 590.50L221.30 586.90Z" fill="#f2dccd" stroke="#cc3a62" stroke-width="1.0"/>
<path d="M232.60 583.30L236.20 586.90L232.60 590.50L229.00 586.90Z" fill="#f2dccd" stroke="#cc3a62" stroke-width="1.0"/>
<path d="M228.80 594.20L232.40 597.80L228.80 601.40L225.20 597.80Z" fill="#f2dccd" stroke="#cc3a62" stroke-width="1.0"/>
<path d="M228.80 621.60L232.40 625.20L228.80 628.80L225.20 625.20Z" fill="#f2dccd" stroke="#cc3a62" stroke-width="1.0"/>
<line x1="221.10" y1="599.40" x2="236.40" y2="599.40" stroke="#aa0834" stroke-width="1.5" stroke-linecap="butt"/>
<line x1="228.90" y1="590.10" x2="228.90" y2="608.40" stroke="#0d0d0d" stroke-width="1.3" stroke-linecap="butt"/>
<line x1="225.10" y1="590.10" x2="232.70" y2="590.10" stroke="#0d0d0d" stroke-width="1.3" stroke-linecap="butt"/>
<line x1="225.10" y1="608.40" x2="232.70" y2="608.40" stroke="#0d0d0d" stroke-width="1.3" stroke-linecap="butt"/>
<path d="M242.20 562.90L245.60 566.30L242.20 569.70L238.80 566.30Z" fill="#f2dccd" stroke="#b01240" stroke-width="1.1"/>
<path d="M240.09 566.30L244.31 566.30M242.20 564.19L242.20 568.41" stroke="#b01240" stroke-width="1.0"/>
<path d="M248.90 567.90L252.30 571.30L248.90 574.70L245.50 571.30Z" fill="#f2dccd" stroke="#b01240" stroke-width="1.1"/>
<path d="M246.79 571.30L251.01 571.30M248.90 569.19L248.90 573.41" stroke="#b01240" stroke-width="1.0"/>
<path d="M245.60 572.60L249.00 576.00L245.60 579.40L242.20 576.00Z" fill="#f2dccd" stroke="#b01240" stroke-width="1.1"/>
<path d="M243.49 576.00L247.71 576.00M245.60 573.89L245.60 578.11" stroke="#b01240" stroke-width="1.0"/>
<path d="M244.60 567.00L248.00 570.40L244.60 573.80L241.20 570.40Z" fill="#f2dccd" stroke="#b01240" stroke-width="1.1"/>
<path d="M242.49 570.40L246.71 570.40M244.60 568.29L244.60 572.51" stroke="#b01240" stroke-width="1.0"/>
<line x1="238.10" y1="571.50" x2="252.80" y2="571.50" stroke="#aa0834" stroke-width="1.5" stroke-linecap="butt"/>
<line x1="245.30" y1="569.40" x2="245.30" y2="573.80" stroke="#0d0d0d" stroke-width="1.3" stroke-linecap="butt"/>
<line x1="241.90" y1="569.40" x2="248.70" y2="569.40" stroke="#0d0d0d" stroke-width="1.3" stroke-linecap="butt"/>
<line x1="241.90" y1="573.80" x2="248.70" y2="573.80" stroke="#0d0d0d" stroke-width="1.3" stroke-linecap="butt"/>
<path d="M224.20 559.50L224.20 554.80L247.00 554.80L247.00 559.50" fill="none" stroke="#0d0d0d" stroke-width="1.2"/>
<text x="221.5" y="548.3" font-size="8.8" text-anchor="start" fill="#231f20" textLength="27.9" lengthAdjust="spacingAndGlyphs" >p&lt;0.05</text>
<text x="82.8" y="677.0" font-size="9.6" text-anchor="start" fill="#231f20" textLength="6.0" lengthAdjust="spacingAndGlyphs" >C</text>
<text x="98.4" y="677.0" font-size="9.6" text-anchor="start" fill="#231f20" textLength="9.3" lengthAdjust="spacingAndGlyphs" >J4</text>
<text x="122.6" y="677.0" font-size="9.6" text-anchor="start" fill="#231f20" textLength="6.2" lengthAdjust="spacingAndGlyphs" >C</text>
<text x="139.1" y="677.0" font-size="9.6" text-anchor="start" fill="#231f20" textLength="8.8" lengthAdjust="spacingAndGlyphs" >J4</text>
<text x="182.8" y="677.0" font-size="9.6" text-anchor="start" fill="#231f20" textLength="5.6" lengthAdjust="spacingAndGlyphs" >C</text>
<text x="198.4" y="677.0" font-size="9.6" text-anchor="start" fill="#231f20" textLength="8.8" lengthAdjust="spacingAndGlyphs" >J4</text>
<text x="226.9" y="677.0" font-size="9.6" text-anchor="start" fill="#231f20" textLength="5.4" lengthAdjust="spacingAndGlyphs" >C</text>
<text x="242.2" y="677.0" font-size="9.6" text-anchor="start" fill="#231f20" textLength="8.2" lengthAdjust="spacingAndGlyphs" >J4</text>
<line x1="77.80" y1="682.90" x2="112.70" y2="682.90" stroke="#0d0d0d" stroke-width="1.3" stroke-linecap="butt"/>
<line x1="115.80" y1="682.90" x2="154.80" y2="682.90" stroke="#0d0d0d" stroke-width="1.3" stroke-linecap="butt"/>
<line x1="177.80" y1="682.90" x2="211.50" y2="682.90" stroke="#0d0d0d" stroke-width="1.3" stroke-linecap="butt"/>
<line x1="219.80" y1="682.90" x2="256.50" y2="682.90" stroke="#0d0d0d" stroke-width="1.3" stroke-linecap="butt"/>
<text x="88.0" y="696.0" font-size="9.6" text-anchor="start" fill="#231f20" textLength="15.0" lengthAdjust="spacingAndGlyphs" >WT</text>
<text x="119.1" y="696.0" font-size="9.6" text-anchor="start" fill="#231f20" textLength="32.4" lengthAdjust="spacingAndGlyphs" >WT-LPS</text>
<text x="178.5" y="696.0" font-size="9.6" text-anchor="start" fill="#231f20" textLength="32.4" lengthAdjust="spacingAndGlyphs" >KDM6B</text>
<text x="222.6" y="696.0" font-size="9.6" text-anchor="start" fill="#231f20" textLength="31.8" lengthAdjust="spacingAndGlyphs" >KDM6B</text>
<text x="229.5" y="708.6" font-size="9.6" text-anchor="start" fill="#231f20" textLength="18.6" lengthAdjust="spacingAndGlyphs" >-LPS</text>
<text x="387.0" y="30.0" font-size="10.8" text-anchor="start" fill="#231f20" textLength="70.0" lengthAdjust="spacingAndGlyphs" >PB chimerism</text>
<text x="369.0" y="45.0" font-size="10.8" text-anchor="start" fill="#231f20" textLength="106.6" lengthAdjust="spacingAndGlyphs" >in transplanted mice</text>
<text transform="translate(303.1,165.7) rotate(-90)" font-size="11" fill="#231f20" textLength="57.3" lengthAdjust="spacingAndGlyphs">% (CD45.2)</text>
<line x1="333.80" y1="78.50" x2="333.80" y2="196.75" stroke="#0d0d0d" stroke-width="1.5" stroke-linecap="butt"/>
<line x1="329.80" y1="195.95" x2="333.80" y2="195.95" stroke="#0d0d0d" stroke-width="1.2" stroke-linecap="butt"/>
<text x="325.9" y="199.2" font-size="9.3" text-anchor="end" fill="#231f20" textLength="5.1" lengthAdjust="spacingAndGlyphs" >0</text>
<line x1="329.80" y1="176.97" x2="333.80" y2="176.97" stroke="#0d0d0d" stroke-width="1.2" stroke-linecap="butt"/>
<text x="325.9" y="180.3" font-size="9.3" text-anchor="end" fill="#231f20" textLength="10.2" lengthAdjust="spacingAndGlyphs" >10</text>
<line x1="329.80" y1="158.00" x2="333.80" y2="158.00" stroke="#0d0d0d" stroke-width="1.2" stroke-linecap="butt"/>
<text x="325.9" y="161.3" font-size="9.3" text-anchor="end" fill="#231f20" textLength="10.2" lengthAdjust="spacingAndGlyphs" >20</text>
<line x1="329.80" y1="139.02" x2="333.80" y2="139.02" stroke="#0d0d0d" stroke-width="1.2" stroke-linecap="butt"/>
<text x="325.9" y="142.3" font-size="9.3" text-anchor="end" fill="#231f20" textLength="10.2" lengthAdjust="spacingAndGlyphs" >30</text>
<line x1="329.80" y1="120.05" x2="333.80" y2="120.05" stroke="#0d0d0d" stroke-width="1.2" stroke-linecap="butt"/>
<text x="325.9" y="123.3" font-size="9.3" text-anchor="end" fill="#231f20" textLength="10.2" lengthAdjust="spacingAndGlyphs" >40</text>
<line x1="329.80" y1="101.07" x2="333.80" y2="101.07" stroke="#0d0d0d" stroke-width="1.2" stroke-linecap="butt"/>
<text x="325.9" y="104.4" font-size="9.3" text-anchor="end" fill="#231f20" textLength="10.2" lengthAdjust="spacingAndGlyphs" >50</text>
<line x1="329.80" y1="82.10" x2="333.80" y2="82.10" stroke="#0d0d0d" stroke-width="1.2" stroke-linecap="butt"/>
<text x="325.9" y="85.4" font-size="9.3" text-anchor="end" fill="#231f20" textLength="10.2" lengthAdjust="spacingAndGlyphs" >60</text>
<line x1="331.60" y1="186.46" x2="333.80" y2="186.46" stroke="#0d0d0d" stroke-width="1.2" stroke-linecap="butt"/>
<line x1="331.60" y1="167.49" x2="333.80" y2="167.49" stroke="#0d0d0d" stroke-width="1.2" stroke-linecap="butt"/>
<line x1="331.60" y1="148.51" x2="333.80" y2="148.51" stroke="#0d0d0d" stroke-width="1.2" stroke-linecap="butt"/>
<line x1="331.60" y1="129.54" x2="333.80" y2="129.54" stroke="#0d0d0d" stroke-width="1.2" stroke-linecap="butt"/>
<line x1="331.60" y1="110.56" x2="333.80" y2="110.56" stroke="#0d0d0d" stroke-width="1.2" stroke-linecap="butt"/>
<line x1="331.60" y1="91.59" x2="333.80" y2="91.59" stroke="#0d0d0d" stroke-width="1.2" stroke-linecap="butt"/>
<rect x="341.20" y="132.00" width="24.60" height="63.95" fill="#6aa543"/>
<rect x="380.90" y="124.70" width="24.20" height="71.25" fill="#ce8e81"/>
<defs><pattern id="h1" patternUnits="userSpaceOnUse" width="12" height="6.8" patternTransform="skewY(-29)"><rect width="12" height="6.8" fill="#ce8e81"/><rect y="0" width="12" height="1.9" fill="#fff"/></pattern><pattern id="h2" patternUnits="userSpaceOnUse" width="12" height="6.8" patternTransform="skewY(-29)"><rect width="12" height="6.8" fill="#a1002b"/><rect y="0" width="12" height="1.9" fill="#fff"/></pattern></defs>
<rect x="409.20" y="113.90" width="24.70" height="82.05" fill="url(#h1)"/>
<rect x="448.90" y="160.00" width="24.40" height="35.95" fill="#a1002b"/>
<rect x="477.80" y="109.60" width="24.40" height="86.35" fill="url(#h2)"/>
<line x1="353.50" y1="124.50" x2="353.50" y2="132.00" stroke="#0d0d0d" stroke-width="1.3" stroke-linecap="butt"/>
<line x1="347.20" y1="124.50" x2="359.80" y2="124.50" stroke="#0d0d0d" stroke-width="1.3" stroke-linecap="butt"/>
<line x1="392.70" y1="105.80" x2="392.70" y2="124.70" stroke="#0d0d0d" stroke-width="1.3" stroke-linecap="butt"/>
<line x1="386.20" y1="105.80" x2="399.20" y2="105.80" stroke="#0d0d0d" stroke-width="1.3" stroke-linecap="butt"/>
<line x1="421.60" y1="104.50" x2="421.60" y2="113.90" stroke="#0d0d0d" stroke-width="1.3" stroke-linecap="butt"/>
<line x1="415.10" y1="104.50" x2="428.10" y2="104.50" stroke="#0d0d0d" stroke-width="1.3" stroke-linecap="butt"/>
<line x1="461.10" y1="150.00" x2="461.10" y2="160.00" stroke="#0d0d0d" stroke-width="1.3" stroke-linecap="butt"/>
<line x1="454.40" y1="150.00" x2="467.80" y2="150.00" stroke="#0d0d0d" stroke-width="1.3" stroke-linecap="butt"/>
<line x1="489.80" y1="91.60" x2="489.80" y2="109.60" stroke="#0d0d0d" stroke-width="1.3" stroke-linecap="butt"/>
<line x1="482.90" y1="91.60" x2="496.70" y2="91.60" stroke="#0d0d0d" stroke-width="1.3" stroke-linecap="butt"/>
<line x1="333.10" y1="195.95" x2="510.40" y2="195.95" stroke="#0d0d0d" stroke-width="1.6" stroke-linecap="butt"/>
<path d="M386.20 101.10L386.20 95.90L425.10 95.90L425.10 101.10" fill="none" stroke="#0d0d0d" stroke-width="1.2"/>
<text x="399.9" y="89.7" font-size="8.8" text-anchor="start" fill="#231f20" textLength="11.3" lengthAdjust="spacingAndGlyphs" >NS</text>
<path d="M451.90 89.60L451.90 85.00L490.40 85.00L490.40 89.60" fill="none" stroke="#0d0d0d" stroke-width="1.2"/>
<text x="466.0" y="78.6" font-size="8.8" text-anchor="start" fill="#231f20" textLength="10.8" lengthAdjust="spacingAndGlyphs" >NS</text>
<path d="M424.60 69.80L424.60 65.00L490.40 65.00L490.40 69.80" fill="none" stroke="#0d0d0d" stroke-width="1.2"/>
<text x="443.6" y="59.1" font-size="8.8" text-anchor="start" fill="#231f20" textLength="28.0" lengthAdjust="spacingAndGlyphs" >p=0.06</text>
<text x="346.1" y="209.2" font-size="9.6" text-anchor="start" fill="#231f20" textLength="14.5" lengthAdjust="spacingAndGlyphs" >WT</text>
<text x="389.8" y="209.2" font-size="9.6" text-anchor="start" fill="#231f20" textLength="6.5" lengthAdjust="spacingAndGlyphs" >C</text>
<text x="416.3" y="209.2" font-size="9.6" text-anchor="start" fill="#231f20" textLength="9.5" lengthAdjust="spacingAndGlyphs" >J4</text>
<text x="457.3" y="209.2" font-size="9.6" text-anchor="start" fill="#231f20" textLength="6.5" lengthAdjust="spacingAndGlyphs" >C</text>
<text x="484.8" y="209.2" font-size="9.6" text-anchor="start" fill="#231f20" textLength="9.2" lengthAdjust="spacingAndGlyphs" >J4</text>
<line x1="379.00" y1="215.50" x2="435.70" y2="215.50" stroke="#0d0d0d" stroke-width="1.15" stroke-linecap="butt"/>
<line x1="447.20" y1="215.50" x2="503.70" y2="215.50" stroke="#0d0d0d" stroke-width="1.15" stroke-linecap="butt"/>
<text x="391.0" y="228.5" font-size="9.6" text-anchor="start" fill="#231f20" textLength="32.4" lengthAdjust="spacingAndGlyphs" >KDM6B</text>
<text x="449.6" y="228.5" font-size="9.6" text-anchor="start" fill="#231f20" textLength="51.2" lengthAdjust="spacingAndGlyphs" >KDM6B-LPS</text>
<text x="369.6" y="283.2" font-size="10.8" text-anchor="start" fill="#231f20" textLength="88.8" lengthAdjust="spacingAndGlyphs" >colony formation</text>
<text transform="translate(300.6,431.5) rotate(-90)" font-size="11.5" fill="#231f20" textLength="154" lengthAdjust="spacingAndGlyphs"># of colonies/10<tspan dy="-4.6" font-size="8">4</tspan><tspan dy="4.6"> MDS CD34+</tspan></text>
<line x1="333.40" y1="292.90" x2="333.40" y2="415.00" stroke="#0d0d0d" stroke-width="1.5" stroke-linecap="butt"/>
<line x1="329.40" y1="414.20" x2="333.40" y2="414.20" stroke="#0d0d0d" stroke-width="1.2" stroke-linecap="butt"/>
<text x="325.4" y="417.5" font-size="9.3" text-anchor="end" fill="#231f20" textLength="5.1" lengthAdjust="spacingAndGlyphs" >0</text>
<line x1="329.40" y1="390.56" x2="333.40" y2="390.56" stroke="#0d0d0d" stroke-width="1.2" stroke-linecap="butt"/>
<text x="325.4" y="393.9" font-size="9.3" text-anchor="end" fill="#231f20" textLength="10.2" lengthAdjust="spacingAndGlyphs" >50</text>
<line x1="329.40" y1="366.92" x2="333.40" y2="366.92" stroke="#0d0d0d" stroke-width="1.2" stroke-linecap="butt"/>
<text x="325.4" y="370.2" font-size="9.3" text-anchor="end" fill="#231f20" textLength="15.6" lengthAdjust="spacingAndGlyphs" >100</text>
<line x1="329.40" y1="343.28" x2="333.40" y2="343.28" stroke="#0d0d0d" stroke-width="1.2" stroke-linecap="butt"/>
<text x="325.4" y="346.6" font-size="9.3" text-anchor="end" fill="#231f20" textLength="15.6" lengthAdjust="spacingAndGlyphs" >150</text>
<line x1="329.40" y1="319.64" x2="333.40" y2="319.64" stroke="#0d0d0d" stroke-width="1.2" stroke-linecap="butt"/>
<text x="325.4" y="322.9" font-size="9.3" text-anchor="end" fill="#231f20" textLength="15.6" lengthAdjust="spacingAndGlyphs" >200</text>
<line x1="329.40" y1="296.00" x2="333.40" y2="296.00" stroke="#0d0d0d" stroke-width="1.2" stroke-linecap="butt"/>
<text x="325.4" y="299.3" font-size="9.3" text-anchor="end" fill="#231f20" textLength="15.6" lengthAdjust="spacingAndGlyphs" >250</text>
<line x1="331.20" y1="402.38" x2="333.40" y2="402.38" stroke="#0d0d0d" stroke-width="1.2" stroke-linecap="butt"/>
<line x1="331.20" y1="378.74" x2="333.40" y2="378.74" stroke="#0d0d0d" stroke-width="1.2" stroke-linecap="butt"/>
<line x1="331.20" y1="355.10" x2="333.40" y2="355.10" stroke="#0d0d0d" stroke-width="1.2" stroke-linecap="butt"/>
<line x1="331.20" y1="331.46" x2="333.40" y2="331.46" stroke="#0d0d0d" stroke-width="1.2" stroke-linecap="butt"/>
<line x1="331.20" y1="307.82" x2="333.40" y2="307.82" stroke="#0d0d0d" stroke-width="1.2" stroke-linecap="butt"/>
<rect x="348.10" y="365.40" width="51.80" height="48.80" fill="#512262"/>
<rect x="428.10" y="335.80" width="51.90" height="78.40" fill="#d98818"/>
<line x1="373.80" y1="349.50" x2="373.80" y2="365.40" stroke="#0d0d0d" stroke-width="1.3" stroke-linecap="butt"/>
<line x1="360.60" y1="349.50" x2="387.00" y2="349.50" stroke="#0d0d0d" stroke-width="1.3" stroke-linecap="butt"/>
<line x1="454.10" y1="312.20" x2="454.10" y2="335.80" stroke="#0d0d0d" stroke-width="1.3" stroke-linecap="butt"/>
<line x1="440.50" y1="312.20" x2="467.70" y2="312.20" stroke="#0d0d0d" stroke-width="1.3" stroke-linecap="butt"/>
<line x1="332.70" y1="414.20" x2="494.60" y2="414.20" stroke="#0d0d0d" stroke-width="1.6" stroke-linecap="butt"/>
<line x1="373.80" y1="414.20" x2="373.80" y2="417.70" stroke="#0d0d0d" stroke-width="1.2" stroke-linecap="butt"/>
<line x1="454.10" y1="414.20" x2="454.10" y2="417.70" stroke="#0d0d0d" stroke-width="1.2" stroke-linecap="butt"/>
<text x="439.9" y="307.5" font-size="8.8" text-anchor="start" fill="#231f20" textLength="28.3" lengthAdjust="spacingAndGlyphs" >p=0.05</text>
<text x="357.3" y="431.0" font-size="9.6" text-anchor="start" fill="#231f20" textLength="31.2" lengthAdjust="spacingAndGlyphs" >control</text>
<text x="438.9" y="431.0" font-size="9.6" text-anchor="start" fill="#231f20" textLength="29.8" lengthAdjust="spacingAndGlyphs" >GSK-J4</text>
<rect x="0" y="0" width="520" height="1.72" fill="#1c1c1c"/>
<rect x="0" y="0" width="1.67" height="719" fill="#0a0a0a"/>
<rect x="518.33" y="0" width="1.67" height="719" fill="#0a0a0a"/>
<rect x="0" y="717" width="520" height="1.2" fill="#151515"/>
<rect x="0" y="718" width="520" height="1" fill="#555"/>
</svg>
</body></html>
